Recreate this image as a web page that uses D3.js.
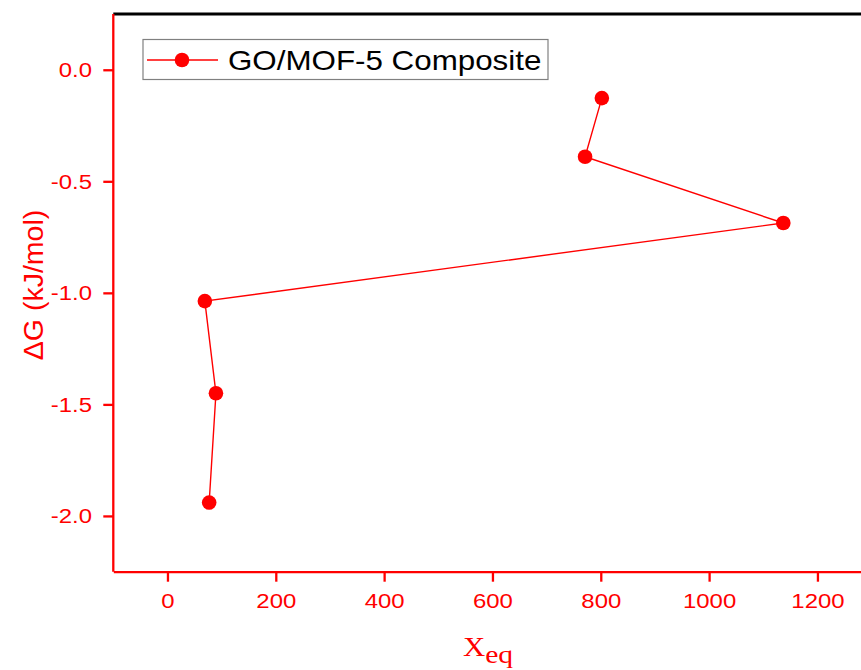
<!DOCTYPE html>
<html>
<head>
<meta charset="utf-8">
<script src="https://cdn.jsdelivr.net/npm/d3@7/dist/d3.min.js"></script>
<style>
  html, body { margin: 0; padding: 0; background: #fff; }
  svg { display: block; }
</style>
</head>
<body>
<svg id="chart" width="861" height="670"></svg>
<script>
// Equilibrium quantity vs Gibbs free energy change for the GO/MOF-5 composite
const seriesName = "GO/MOF-5 Composite";
const xeqValues = [802, 771, 1137, 69, 89.5, 77];
const deltaGValues = [-0.127, -0.390, -0.687, -1.037, -1.450, -1.940];
const xTicks = [0, 200, 400, 600, 800, 1000, 1200];
const yTicks = [0.0, -0.5, -1.0, -1.5, -2.0];

const points = xeqValues.map((x, i) => ({ x, y: deltaGValues[i] }));

const RED = "#ff0000";
const SANS = "'Liberation Sans', Arial, sans-serif";
const SERIF = "'Liberation Serif', 'Times New Roman', serif";
const WIDEN = 1.14; // horizontal widening of the lettering
const svg = d3.select("#chart");

const plotLeft = 113.3, plotRight = 871.6, plotTop = 14, plotBottom = 571.7;

const x = d3.scaleLinear().domain([-100, 1300]).range([plotLeft, plotRight]);
const y = d3.scaleLinear().domain([-2.25, 0.25]).range([plotBottom, plotTop]);

// Frame: black top edge, red left and bottom axes
svg.append("line")
  .attr("x1", plotLeft).attr("x2", plotRight)
  .attr("y1", plotTop).attr("y2", plotTop)
  .attr("stroke", "#000").attr("stroke-width", 2.8);

const xAxis = svg.append("g")
  .attr("transform", `translate(0,${plotBottom})`)
  .call(d3.axisBottom(x).tickValues(xTicks).tickSize(10).tickSizeOuter(0)
    .tickPadding(11).tickFormat(d3.format("d")));
const yAxis = svg.append("g")
  .attr("transform", `translate(${plotLeft},0)`)
  .call(d3.axisLeft(y).tickValues(yTicks).tickSize(10).tickSizeOuter(0)
    .tickPadding(8.7).tickFormat(d => d.toFixed(1)));

// the y axis line also runs up to the top edge of the frame
yAxis.select(".domain").attr("d", `M0,${plotBottom}V${plotTop}`);

[xAxis, yAxis].forEach(g => {
  g.select(".domain").attr("stroke", RED).attr("stroke-width", 2.3);
  g.selectAll(".tick line").attr("stroke", RED).attr("stroke-width", 2.3);
  g.selectAll(".tick text")
    .attr("fill", RED)
    .attr("transform", `scale(${WIDEN},1)`)
    .style("font-family", SANS)
    .style("font-size", "21px");
});

// Axis titles
const xTitle = svg.append("text")
  .attr("transform", `translate(463,656) scale(${WIDEN},1)`)
  .attr("fill", RED)
  .style("font-family", SERIF)
  .style("font-size", "27px");
xTitle.append("tspan").text("X");
xTitle.append("tspan").attr("dy", 7).style("font-size", "26px").text("eq");

svg.append("text")
  .attr("transform", "translate(43,285) rotate(-90)")
  .attr("text-anchor", "middle")
  .attr("fill", RED)
  .style("font-family", SANS)
  .style("font-size", "28.5px")
  .text("ΔG (kJ/mol)");

// Data line and markers
const line = d3.line().x(d => x(d.x)).y(d => y(d.y));
svg.append("path")
  .datum(points)
  .attr("d", line)
  .attr("fill", "none")
  .attr("stroke", RED)
  .attr("stroke-width", 1.4);

svg.selectAll("circle.pt")
  .data(points)
  .join("circle")
  .attr("class", "pt")
  .attr("cx", d => x(d.x))
  .attr("cy", d => y(d.y))
  .attr("r", 7.3)
  .attr("fill", RED);

// Legend
const legend = svg.append("g");
legend.append("rect")
  .attr("x", 143).attr("y", 39.5)
  .attr("width", 405).attr("height", 40)
  .attr("fill", "#fff")
  .attr("stroke", "#808080").attr("stroke-width", 1.2);
legend.append("line")
  .attr("x1", 147).attr("x2", 218)
  .attr("y1", 60).attr("y2", 60)
  .attr("stroke", RED).attr("stroke-width", 1.4);
legend.append("circle")
  .attr("cx", 182).attr("cy", 60).attr("r", 7.3).attr("fill", RED);
legend.append("text")
  .attr("transform", `translate(228,70) scale(${WIDEN},1)`)
  .attr("fill", "#000")
  .style("font-family", SANS)
  .style("font-size", "27.5px")
  .text(seriesName);
</script>
</body>
</html>
